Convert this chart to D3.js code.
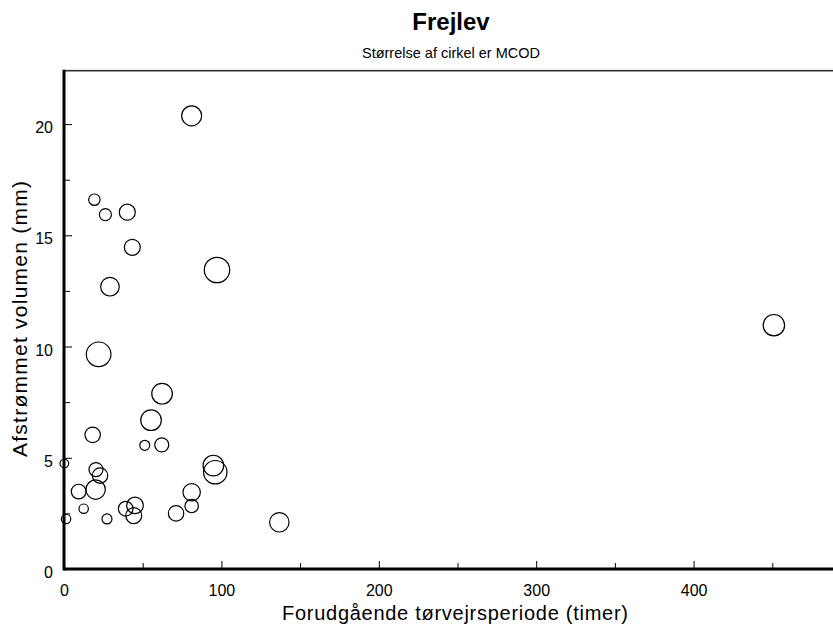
<!DOCTYPE html>
<html lang="da">
<head>
    <meta charset="UTF-8">
    <title>Frejlev</title>
    <script src="https://cdn.jsdelivr.net/npm/d3@7"></script>
    <style>
        body { margin: 0; background: #fff; }
        text { font-family: "Liberation Sans", Arial, sans-serif; fill: #000; }
        .tick line { stroke: #000; stroke-width: 1; }
        .tick text { font-size: 16px; }
        .dots { fill: none; stroke: #000; stroke-width: 1.2; }
    </style>
</head>
<body>
    <svg id="main" width="833" height="627"></svg>
    <script>
        // data
        // hours of dry weather before the event
        const dryHours = [81.1, 19.3, 26.3, 40.2, 43.4, 97.2, 29.2, 22.0, 62.3, 55.3,
                          18.2, 51.3, 62.1, 0.2, 20.3, 22.9, 94.9, 96.1, 9.3, 20.1,
                          81.1, 12.5, 39.2, 45.1, 44.3, 81.1, 71.2, 1.3, 27.3, 136.8,
                          451.0];
        // runoff volume (mm)
        const volume = [20.37, 16.6, 15.93, 16.04, 14.46, 13.44, 12.69, 9.65, 7.88, 6.69,
                        6.03, 5.56, 5.58, 4.74, 4.47, 4.20, 4.65, 4.35, 3.48, 3.57,
                        3.45, 2.71, 2.71, 2.86, 2.40, 2.83, 2.50, 2.25, 2.25, 2.10,
                        10.96];
        // MCOD (circle size)
        const mcod = [200, 65, 72, 128, 128, 322, 173, 303, 212, 212,
                      119, 50, 98, 37, 98, 119, 212, 274, 107, 188,
                      151, 44, 107, 138, 128, 90, 119, 44, 50, 188,
                      229];
        const xTicks = [0, 100, 200, 300, 400];
        const yTicks = [0, 5, 10, 15, 20];

        let svg = d3.select('svg#main');
        let plot = {left: 64, top: 70.7, right: 851, bottom: 569};

        let x = d3.scaleLinear().domain([0, 500]).range([plot.left, plot.right]);
        let y = d3.scaleLinear().domain([0, 22.4]).range([plot.bottom, plot.top]);
        let r = d3.scaleSqrt().domain([0, 322]).range([0, 12.7]);

        let data = dryHours.map(function(d, i){
            return {x: d, y: volume[i], m: mcod[i]};
        });

        // title
        svg.append('text')
            .attr('x', 451).attr('y', 30)
            .attr('text-anchor', 'middle')
            .style('font-size', '24px').style('font-weight', 'bold')
            .text('Frejlev');
        svg.append('text')
            .attr('x', 451).attr('y', 58)
            .attr('text-anchor', 'middle')
            .style('font-size', '14.5px')
            .text('Størrelse af cirkel er MCOD');

        // minor ticks
        svg.append('g')
            .attr('transform', `translate(0,${plot.bottom})`)
            .call(d3.axisBottom(x).tickValues([50, 150, 250, 350, 450]).tickSize(-6).tickFormat(''))
            .call(g => g.select('.domain').remove());
        svg.append('g')
            .attr('transform', `translate(${plot.left},0)`)
            .call(d3.axisLeft(y).tickValues([2.5, 7.5, 12.5, 17.5]).tickSize(-6).tickFormat(''))
            .call(g => g.select('.domain').remove());

        // major ticks
        svg.append('g')
            .attr('transform', `translate(0,${plot.bottom})`)
            .call(d3.axisBottom(x).tickValues(xTicks).tickSize(-8).tickPadding(16).tickFormat(d3.format('d')))
            .call(g => g.select('.domain').remove());
        svg.append('g')
            .attr('transform', `translate(${plot.left},0)`)
            .call(d3.axisLeft(y).tickValues(yTicks).tickSize(-8).tickPadding(11).tickFormat(d3.format('d')))
            .call(g => g.select('.domain').remove())
            .selectAll('text').attr('y', 3).attr('dy', '0.35em');

        // frame
        svg.append('rect')
            .attr('x', plot.left).attr('y', plot.top)
            .attr('width', plot.right - plot.left).attr('height', plot.bottom - plot.top)
            .attr('fill', 'none').attr('stroke', '#333').attr('stroke-width', 1.6);
        svg.append('line')
            .attr('x1', plot.left).attr('x2', plot.left)
            .attr('y1', plot.top - 1).attr('y2', plot.bottom + 1.5)
            .attr('stroke', '#000').attr('stroke-width', 3);
        svg.append('line')
            .attr('x1', plot.left).attr('x2', plot.right)
            .attr('y1', plot.bottom).attr('y2', plot.bottom)
            .attr('stroke', '#000').attr('stroke-width', 3);

        // circles
        svg.append('g')
            .selectAll('circle')
            .data(data)
            .enter()
            .append('circle')
            .attr('class', 'dots')
            .attr('cx', d => x(d.x))
            .attr('cy', d => y(d.y))
            .attr('r', d => r(d.m));

        // axis titles
        svg.append('text')
            .attr('x', 455).attr('y', 620)
            .attr('text-anchor', 'middle')
            .attr('textLength', 346).attr('lengthAdjust', 'spacing')
            .style('font-size', '20px')
            .text('Forudgående tørvejrsperiode (timer)');
        svg.append('text')
            .attr('transform', 'translate(27,319) rotate(-90)')
            .attr('text-anchor', 'middle')
            .attr('textLength', 276).attr('lengthAdjust', 'spacing')
            .style('font-size', '21px')
            .text('Afstrømmet volumen (mm)');
    </script>
</body>
</html>
